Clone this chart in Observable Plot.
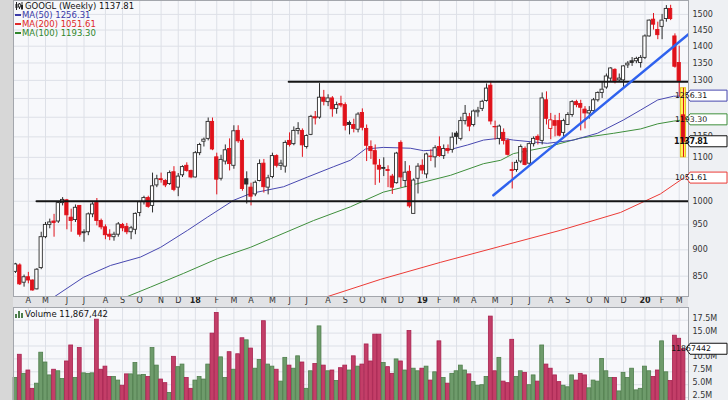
<!DOCTYPE html>
<html><head><meta charset="utf-8">
<script src="https://cdn.jsdelivr.net/npm/d3@7"></script>
<script src="https://cdn.jsdelivr.net/npm/@observablehq/plot@0.6"></script>
<style>
html,body{margin:0;padding:0;background:#d7d7d7;}
#wrap{position:relative;width:728px;height:400px;overflow:hidden;background:#d7d7d7;font-family:"DejaVu Sans",Verdana,sans-serif;}
#rightbg{position:absolute;left:13px;top:0;width:715px;height:400px;background:#eef0f3;}
#band{position:absolute;left:13px;top:296px;width:675px;height:10px;background:#e2e3e6;border-top:1px dotted #888;border-bottom:1px dotted #888;}
#price,#vol{position:absolute;left:0;}
#price{top:0;}
#vol{top:306px;}
.leg{position:absolute;font-size:8.5px;line-height:10px;white-space:nowrap;}
.dash{display:inline-block;width:6px;height:2px;vertical-align:middle;margin-right:1px;margin-top:-1px;}
</style></head>
<body><div id="wrap">
<div id="rightbg"></div><div id="band"></div>
<div id="price"></div><div id="vol"></div>
<div id="legend"></div>
</div>
<script>
// ---- weekly GOOGL candles, Mar 13 2017 .. Mar 9 2020 ----
const firstWeek = "2017-03-13";
const open = [858,870,838,848,842,826,865,925,950,957,
957,996,1002,965,960,990,933,935,972,996,
958,945,930,925,930,950,946,935,940,975,
998,1007,990,1035,1049,1045,1038,1065,1030,1058,
1080,1068,1053,1110,1138,1145,1188,1100,1050,1090,
1120,1080,1165,1140,1049,1030,1015,1045,1085,1030,
1054,1103,1080,1078,1140,1132,1165,1165,1125,1155,
1200,1199,1252,1240,1250,1222,1235,1232,1185,1180,
1168,1211,1170,1125,1115,1080,1075,1070,1055,1040,
1135,1045,1066,973,1050,1080,1060,1102,1100,1125,
1103,1120,1118,1158,1145,1190,1200,1180,1213,1222,
1243,1285,1175,1145,1160,1140,1070,1070,1090,1120,
1085,1132,1150,1140,1245,1170,1190,1190,1160,1180,
1206,1240,1235,1220,1210,1216,1245,1265,1280,1305,
1330,1300,1300,1343,1355,1355,1350,1365,1430,1483,
1450,1460,1485,1518,1430,1350,1205];
const high = [874,873,852,857,843,864,935,955,962,972,
999,1008,1004,983,992,990,940,975,997,1006,
962,950,940,935,955,953,953,947,975,1000,
1011,1011,1063,1058,1063,1048,1068,1078,1062,1080,
1087,1070,1114,1134,1147,1198,1198,1110,1105,1130,
1145,1178,1178,1145,1066,1040,1045,1094,1095,1058,
1110,1106,1093,1140,1160,1175,1186,1170,1155,1205,
1215,1291,1272,1260,1255,1240,1256,1238,1190,1195,
1212,1222,1180,1140,1130,1095,1099,1080,1060,1112,
1140,1090,1080,1050,1085,1094,1110,1118,1128,1150,
1130,1130,1160,1163,1200,1231,1210,1219,1226,1245,
1290,1297,1190,1180,1170,1145,1088,1093,1130,1125,
1135,1150,1155,1265,1268,1210,1205,1210,1195,1212,
1244,1245,1245,1228,1228,1250,1268,1295,1318,1336,
1333,1318,1342,1354,1366,1367,1372,1435,1482,1503,
1475,1500,1529,1530,1438,1400,1278];
const low = [855,833,830,836,823,825,862,922,942,925,
953,990,940,935,955,925,915,928,965,948,
940,920,918,917,925,936,930,920,930,967,
992,985,975,1030,1040,1030,1035,1021,1010,1053,
1065,1050,1052,1104,1125,1140,1116,1014,1045,1082,
1068,1072,1134,1022,994,990,1010,1043,1018,1014,
1050,1075,1069,1063,1125,1128,1155,1100,1120,1153,
1180,1195,1230,1228,1200,1208,1225,1165,1155,1160,
1160,1165,1090,1095,1035,1040,1055,1030,1015,1038,
1030,1030,985,977,1016,1060,1050,1090,1075,1100,
1095,1108,1110,1130,1140,1180,1163,1175,1200,1215,
1240,1180,1142,1130,1130,1103,1027,1065,1085,1080,
1080,1125,1130,1130,1180,1143,1150,1150,1150,1180,
1200,1225,1165,1170,1195,1210,1240,1250,1275,1295,
1290,1295,1280,1334,1340,1348,1335,1360,1428,1450,
1420,1420,1475,1480,1335,1254,1100];
const close = [872,835,848,842,824,862,925,950,955,954,
996,1003,970,958,986,930,935,972,993,958,
945,929,926,930,951,943,935,943,973,998,
1007,988,1033,1049,1047,1035,1063,1025,1055,1077,
1068,1053,1110,1130,1143,1188,1119,1048,1094,1117,
1084,1164,1139,1027,1037,1010,1041,1084,1031,1051,
1103,1080,1085,1135,1130,1165,1170,1129,1152,1201,
1197,1252,1241,1250,1221,1232,1231,1178,1180,1170,
1207,1173,1128,1115,1083,1071,1073,1068,1030,1109,
1053,1064,989,1046,1078,1069,1107,1101,1122,1103,
1120,1115,1148,1150,1190,1209,1176,1215,1217,1241,
1277,1189,1174,1176,1140,1106,1068,1087,1125,1082,
1132,1145,1142,1250,1196,1192,1178,1153,1190,1206,
1240,1232,1225,1210,1216,1245,1265,1274,1311,1334,
1295,1305,1340,1348,1350,1362,1365,1430,1480,1467,
1434,1480,1518,1485,1339,1298,1137.81];
// weekly volume, millions of shares
const volume = [6.3,10.8,7.1,7.75,4.2,5.2,11.2,9.3,6.8,7.9,
7.6,6.1,9.5,12.6,6.3,12.1,7.2,7.1,7.2,17.6,
7.9,8.5,6.5,6.5,5.8,4.8,7.0,7.0,9.2,6.8,
6.9,6.5,12.1,8.7,6.0,5.3,3.4,10.4,8.4,8.9,
6.3,4.2,5.8,6.5,6.0,8.9,14.9,18.9,10.3,6.3,
11.3,7.9,10.9,14.0,13.6,12.0,8.1,9.8,17.3,8.9,
8.5,7.9,5.6,10.2,8.7,8.1,10.5,9.3,4.2,7.6,
9.0,16.3,8.7,7.6,7.75,5.7,8.2,8.7,7.75,10.5,
8.5,8.9,12.8,9.5,14.7,14.7,9.2,8.4,7.1,9.9,
9.5,7.75,15.4,8.1,7.6,8.1,8.5,5.8,7.4,13.4,
6.3,5.2,7.1,7.6,8.7,7.75,7.0,5.5,4.8,4.9,
6.5,18.2,7.6,10.2,5.6,5.3,13.7,6.5,7.6,7.3,
4.9,6.8,5.6,12.6,8.9,8.1,6.8,5.5,4.8,4.5,
6.8,5.8,7.1,6.8,4.3,5.8,5.6,10.0,7.6,6.3,
6.3,3.7,7.3,6.3,8.1,3.9,4.2,8.5,7.6,6.5,
7.75,13.4,7.4,5.7,14.5,13.9,11.867442];
// moving averages: [week index, value]
const ma50 = [[7,800],[8.9,812],[15.9,848],[22.2,870],[29.2,886],[33.9,905],[40.2,939],[44.8,966],[50.9,1002],[54.9,1017],[62.6,1032],[68.2,1054],[74.3,1078],[78.2,1093],[81.7,1120],[85.9,1124],[92.2,1122],[95.3,1116],[98.6,1118],[101.6,1119],[105.6,1130],[109.3,1142],[113.3,1147],[116.3,1142],[124.2,1134],[130.3,1142],[135.9,1159],[142,1193],[146,1219],[150,1246],[153.7,1256],[156,1256.31]];
const ma100 = [[24,805],[25.7,812],[31.5,830],[39.2,855],[47.2,883],[54.9,905],[69.6,959],[78.2,988],[85.9,1020],[93.9,1039],[101.6,1058],[109.3,1085],[113.3,1093],[116.3,1109],[124.2,1125],[131.9,1147],[139.7,1159],[146,1170],[150,1183],[153.7,1190],[156,1193.30]];
const ma200 = [[70,805],[72.4,812],[85.2,844],[99.3,876],[113.3,907],[127.3,939],[141.3,976],[150.6,1016],[156,1051.61]];
// drawn annotation lines: [week index, price]
const resistance = [[63.8,1296],[157.3,1296]];
const support = [[4.9,1000],[157.3,1000]];
const trendline = [[111.6,1013],[157.3,1438]];
const priceTicks = [850,900,950,1000,1050,1100,1150,1200,1250,1300,1350,1400,1450,1500];
const priceTickLabels = [850,900,950,1000,1100,1150,1300,1350,1400,1450,1500]; // others sit under value tags
const volTicks = [2.5,5,7.5,10,12.5,15,17.5];
const volTickLabels = [2.5,5,7.5,10,15,17.5];
const monthLetters = ["J","F","M","A","M","J","J","A","S","O","N","D"];

// ---- build ----
const start = new Date(firstWeek + "T00:00:00Z");
const weeks = close.map((_, i) => d3.utcDay.offset(start, 7 * i));
const candles = close.map((c, i) => ({i, o: open[i], h: high[i], l: low[i], c, v: volume[i] * 1e6,
  up: i === 0 ? true : c >= close[i - 1]}));
const monthTicks = [];
weeks.forEach((d, i) => {
  if (i > 0 && d.getUTCMonth() !== weeks[i - 1].getUTCMonth()) {
    const m = d.getUTCMonth();
    monthTicks.push({i, year: m === 0, label: m === 0 ? String(d.getUTCFullYear()).slice(2) : monthLetters[m]});
  }
});
const last = candles[candles.length - 1];
const xDomain = [-0.47, 157.17];
const grid = "#dde0e7";
const upC = "#2b2b2b", dnC = "#e0121b";
const col = d => d.up ? upC : dnC;
const FONT = "DejaVu Sans, Verdana, sans-serif";
const P = d => d[0], V = d => d[1];

const price = Plot.plot({
  width: 728, height: 308,
  marginLeft: 13, marginRight: 40, marginTop: 0, marginBottom: 12,
  style: {background: "transparent", fontFamily: FONT, fontSize: "8px", color: "#333"},
  x: {domain: xDomain, axis: null},
  y: {type: "log", domain: [813.3, 1546], axis: null},
  marks: [
    Plot.frame({fill: "#f7f8fb"}),
    Plot.ruleX(monthTicks, {x: "i", stroke: grid}),
    Plot.ruleY(priceTicks, {stroke: grid}),
    Plot.line(ma200, {x: P, y: V, stroke: "#ec3b36", strokeWidth: 1, clip: true}),
    Plot.line(ma100, {x: P, y: V, stroke: "#3f8f3c", strokeWidth: 1, clip: true}),
    Plot.line(ma50, {x: P, y: V, stroke: "#4848b0", strokeWidth: 1, clip: true}),
    Plot.rect([last], {x1: d => d.i - 0.6, x2: d => d.i + 0.6, y1: "l", y2: "h", fill: "#fff45c", stroke: "#e5c520"}),
    Plot.ruleX(candles, {x: "i", y1: "l", y2: "h", stroke: col, strokeWidth: 1}),
    Plot.rect(candles, {x1: d => d.i - 0.38, x2: d => d.i + 0.38, y1: "o", y2: "c",
      fill: d => d.c > d.o ? "#ffffff" : col(d), stroke: col, strokeWidth: 0.9}),
    Plot.line(support, {x: P, y: V, stroke: "#151515", strokeWidth: 2, clip: true}),
    Plot.line(resistance, {x: P, y: V, stroke: "#151515", strokeWidth: 2, clip: true}),
    Plot.line(trendline, {x: P, y: V, stroke: "#2f62ee", strokeWidth: 2.5, clip: true}),
    Plot.axisY(priceTickLabels, {anchor: "right", tickSize: 0, tickPadding: 4, label: null, fill: "#333",
      tickFormat: d => String(d)}),
    Plot.text(monthTicks.filter(t => !t.year), {x: "i", text: "label", frameAnchor: "bottom", dy: 6, fill: "#333"}),
    Plot.text(monthTicks.filter(t => t.year), {x: "i", text: "label", frameAnchor: "bottom", dy: 6, fill: "#222", fontWeight: "bold"}),
    Plot.frame({stroke: "#a3a6ac"})
  ]
});
document.getElementById("price").appendChild(price);

const vol = Plot.plot({
  width: 728, height: 110,
  marginLeft: 13, marginRight: 40, marginTop: 1, marginBottom: 6,
  style: {background: "transparent", fontFamily: FONT, fontSize: "8px", color: "#333"},
  x: {domain: xDomain, axis: null},
  y: {domain: [0, 19.96e6], axis: null},
  marks: [
    Plot.frame({fill: "#f7f8fb"}),
    Plot.ruleX(monthTicks, {x: "i", stroke: grid}),
    Plot.ruleY(volTicks.map(v => v * 1e6), {stroke: grid}),
    Plot.rectY(candles, {x1: d => d.i - 0.45, x2: d => d.i + 0.45, y: "v",
      fill: d => d.up ? "#6e9b6b" : "#c33e68", stroke: d => d.up ? "#4f7e4c" : "#a8224f", strokeWidth: 0.8}),
    Plot.axisY(volTickLabels.map(v => v * 1e6), {anchor: "right", tickSize: 0, tickPadding: 4, label: null, fill: "#333",
      dy: -2, tickFormat: d => (d / 1e6).toFixed(1) + "M"}),
    Plot.frame({stroke: "#a3a6ac"})
  ]
});
document.getElementById("vol").appendChild(vol);

// value tags on the right axis
function tag(svg, y, text, color, bold) {
  const g = d3.select(svg).append("g");
  g.append("path").attr("d", `M686,${y} L690,${y - 5.5} L727,${y - 5.5} L727,${y + 5.5} L690,${y + 5.5} Z`)
    .attr("fill", "#fff").attr("stroke", color).attr("stroke-width", 1);
  g.append("text").attr("x", 691).attr("y", y).attr("dy", "0.35em").attr("font-size", bold ? 8 : 7.8)
    .attr("font-family", FONT).attr("font-weight", bold ? "bold" : "normal").attr("fill", "#111")
    .attr("textLength", bold ? 34 : null).text(text);
}
const yP = price.scale("y");
const lastVal = a => a[a.length - 1][1];
tag(price, yP.apply(lastVal(ma50)), lastVal(ma50).toFixed(2), "#4848b0");
tag(price, yP.apply(lastVal(ma100)), lastVal(ma100).toFixed(2), "#3f8f3c");
tag(price, yP.apply(lastVal(ma200)), lastVal(ma200).toFixed(2), "#ec3b36");
tag(price, yP.apply(last.c), last.c.toFixed(2), "#111", true);
tag(vol, vol.scale("y").apply(last.v), String(Math.round(last.v)), "#111");

// legends
const fmt = d3.format(",");
const leg = document.getElementById("legend");
const candleIcon = '<svg width="8" height="8" style="vertical-align:-1px;margin-right:2px"><line x1="1.5" y1="0" x2="1.5" y2="8" stroke="#222"/><rect x="0.5" y="2" width="2" height="4" fill="#222"/><line x1="4.5" y1="1" x2="4.5" y2="7" stroke="#222"/><rect x="3.5" y="2" width="2" height="3" fill="#fff" stroke="#222" stroke-width="0.8"/><line x1="7" y1="0" x2="7" y2="8" stroke="#222"/><rect x="6" y="3" width="2" height="4" fill="#222"/></svg>';
const volIcon = '<svg width="8" height="8" style="vertical-align:-1px;margin-right:2px"><rect x="0" y="4" width="2" height="4" fill="#4f7e4c"/><rect x="3" y="1" width="2" height="7" fill="#4f7e4c"/><rect x="6" y="3" width="2" height="5" fill="#4f7e4c"/></svg>';
leg.innerHTML =
  `<div class="leg" style="left:15px;top:1px;color:#111">${candleIcon}GOOGL (Weekly) ${last.c.toFixed(2)}</div>` +
  `<div class="leg" style="left:15px;top:10px;color:#3a3aa8"><span class="dash" style="background:#3a3aa8"></span>MA(50) ${lastVal(ma50).toFixed(2)}</div>` +
  `<div class="leg" style="left:15px;top:18.5px;color:#e02828"><span class="dash" style="background:#e02828"></span>MA(200) ${lastVal(ma200).toFixed(2)}</div>` +
  `<div class="leg" style="left:15px;top:27.5px;color:#2f862c"><span class="dash" style="background:#2f862c"></span>MA(100) ${lastVal(ma100).toFixed(2)}</div>` +
  `<div class="leg" style="left:15px;top:308.5px;color:#111">${volIcon}Volume ${fmt(Math.round(last.v))}</div>`;
</script>
</body></html>
